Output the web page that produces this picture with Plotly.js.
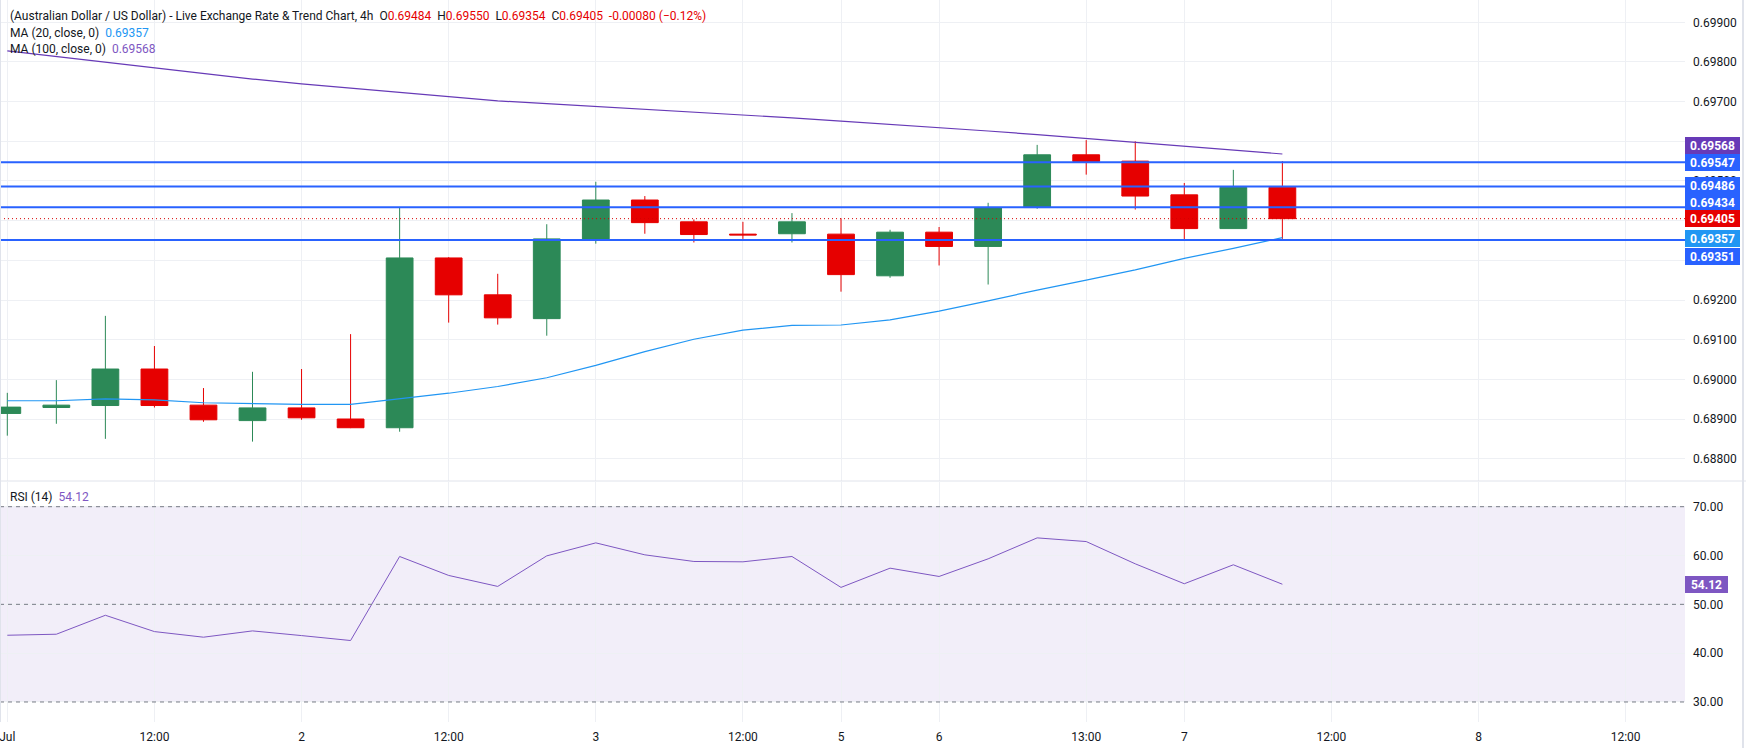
<!DOCTYPE html>
<html><head><meta charset="utf-8">
<script src="https://cdn.plot.ly/plotly-3.0.1.min.js"></script>
<style>html,body{margin:0;padding:0;background:#fff;overflow:hidden}</style>
</head><body><div id="chart" style="width:1746px;height:748px"></div>
<script>
// ---------------- data ----------------
const barIndex = [0,1,2,3,4,5,6,7,8,9,10,11,12,13,14,15,16,17,18,19,20,21,22,23,24,25,26];
const openP  = [0.68914,0.68929,0.68934,0.69026,0.68935,0.68896,0.68928,0.68900,0.68878,0.69306,0.69213,0.69153,0.69354,0.69452,0.69397,0.69366,0.69367,0.69366,0.69261,0.69371,0.69335,0.69433,0.69566,0.69550,0.69465,0.69380,0.69484];
const highP  = [0.68966,0.68998,0.69160,0.69084,0.68978,0.69019,0.69026,0.69114,0.69434,0.69308,0.69266,0.69391,0.69498,0.69462,0.69403,0.69397,0.69419,0.69406,0.69377,0.69384,0.69445,0.69591,0.69603,0.69600,0.69495,0.69528,0.69550];
const lowP   = [0.68858,0.68888,0.68850,0.68929,0.68893,0.68843,0.68898,0.68877,0.68868,0.69143,0.69138,0.69110,0.69342,0.69367,0.69345,0.69354,0.69345,0.69221,0.69256,0.69287,0.69239,0.69430,0.69516,0.69428,0.69352,0.69380,0.69354];
const closeP = [0.68930,0.68935,0.69026,0.68934,0.68898,0.68928,0.68903,0.68878,0.69306,0.69213,0.69155,0.69354,0.69452,0.69395,0.69365,0.69364,0.69397,0.69264,0.69371,0.69335,0.69433,0.69566,0.69549,0.69462,0.69380,0.69484,0.69405];
const ma20   = [0.68946,0.68946,0.68951,0.68948,0.68941,0.68939,0.68937,0.68937,0.68951,0.68965,0.68982,0.69004,0.69035,0.69070,0.69101,0.69124,0.69136,0.69137,0.69150,0.69172,0.69198,0.69225,0.69250,0.69276,0.69305,0.69330,0.69357];
const ma100  = [0.69828,0.69814,0.69799,0.69785,0.69771,0.69757,0.69745,0.69734,0.69724,0.69713,0.69702,0.69695,0.69688,0.69680,0.69673,0.69666,0.69659,0.69651,0.69643,0.69635,0.69626,0.69617,0.69607,0.69598,0.69588,0.69578,0.69568];
const rsi    = [43.67,43.88,47.76,44.42,43.27,44.56,43.60,42.59,59.80,55.92,53.67,59.93,62.59,60.14,58.78,58.71,59.80,53.47,57.41,55.71,59.32,63.61,62.86,58.30,54.22,58.10,54.12];
const levels = [0.69547,0.69486,0.69434,0.69351];
const xTickPos  = [0,3,6,9,12,15,17,19,22,24,27,30,33];
const xTickText = ['Jul','12:00','2','12:00','3','12:00','5','6','13:00','7','12:00','8','12:00'];
const priceTicks = [0.688,0.689,0.690,0.691,0.692,0.693,0.694,0.695,0.696,0.697,0.698,0.699];
const rsiTicks = [30,40,50,60,70];
const rsiBands = [30,50,70];
const titleText = '(Australian Dollar / US Dollar) - Live Exchange Rate & Trend Chart, 4h';
const changeText = '-0.00080 (\u22120.12%)';

// ---------------- style ----------------
const PLOT_W = 1685, PLOT_H = 722;
const GREEN = '#2c8957', RED = '#e60000', BLUE = '#2962ff', MA20C = '#2196f3', MA100C = '#673ab7', RSIC = '#7e57c2';
const TXT = '#131722', GRID = '#eef0f4';
const FONT = 'Roboto, "Noto Sans", sans-serif';
const px = x => x / PLOT_W;
const py = y => 1 - y / PLOT_H;
const last = a => a[a.length - 1];

const traces = [
  {type:'candlestick', x:barIndex, open:openP, high:highP, low:lowP, close:closeP,
   xaxis:'x', yaxis:'y', whiskerwidth:0, hoverinfo:'skip',
   increasing:{line:{color:GREEN,width:1}, fillcolor:GREEN},
   decreasing:{line:{color:RED,width:1}, fillcolor:RED}},
  {type:'scatter', mode:'lines', x:barIndex, y:ma20, xaxis:'x', yaxis:'y', line:{color:MA20C,width:1.2}, hoverinfo:'skip'},
  {type:'scatter', mode:'lines', x:barIndex, y:ma100, xaxis:'x', yaxis:'y', line:{color:MA100C,width:1.2}, hoverinfo:'skip'},
  {type:'scatter', mode:'lines', x:barIndex, y:rsi, xaxis:'x2', yaxis:'y2', line:{color:RSIC,width:1}, hoverinfo:'skip'}
];

const shapes = [];
shapes.push({type:'rect', xref:'paper', x0:0, x1:1, yref:'y2', y0:rsiBands[0], y1:rsiBands[2], fillcolor:'rgba(126,87,194,0.10)', line:{width:0}, layer:'below'});
rsiBands.forEach(v => shapes.push({type:'line', xref:'paper', x0:0, x1:1, yref:'y2', y0:v, y1:v, line:{color:'#787b86', width:1, dash:'4px,4px'}}));
levels.forEach(v => shapes.push({type:'line', xref:'paper', x0:0, x1:1, yref:'y', y0:v, y1:v, line:{color:BLUE, width:2}}));
shapes.push({type:'line', xref:'paper', x0:0, x1:1, yref:'y', y0:last(closeP), y1:last(closeP), line:{color:'#d50000', width:1, dash:'1px,3px'}});
shapes.push({type:'line', xref:'paper', x0:0, x1:px(1746), yref:'paper', y0:py(481), y1:py(481), line:{color:'#e0e3eb', width:1}});
shapes.push({type:'line', xref:'paper', x0:px(1743), x1:px(1743), yref:'paper', y0:py(748), y1:1, line:{color:'#e0e3eb', width:2}});
shapes.push({type:'line', xref:'paper', x0:px(0.5), x1:px(0.5), yref:'paper', y0:0, y1:1, line:{color:'#e0e3eb', width:1}});

const ann = [];
const red = s => '<span style="color:' + RED + '">' + s + '</span>';
const sp = '&nbsp;&nbsp;';
const LEG = 12;
ann.push({xref:'paper', yref:'paper', x:px(8), y:py(16), xanchor:'left', yanchor:'middle', showarrow:false, align:'left',
  font:{family:FONT, size:LEG, color:TXT},
  text: titleText + sp + 'O' + red(openP[26].toFixed(5)) + sp + 'H' + red(highP[26].toFixed(5)) + sp + 'L' + red(lowP[26].toFixed(5)) + sp + 'C' + red(closeP[26].toFixed(5)) + sp + red(changeText)});
ann.push({xref:'paper', yref:'paper', x:px(8), y:py(32.7), xanchor:'left', yanchor:'middle', showarrow:false,
  font:{family:FONT, size:LEG, color:TXT}, text:'MA (20, close, 0)' + sp + '<span style="color:' + MA20C + '">' + last(ma20).toFixed(5) + '</span>'});
ann.push({xref:'paper', yref:'paper', x:px(8), y:py(49.3), xanchor:'left', yanchor:'middle', showarrow:false,
  font:{family:FONT, size:LEG, color:TXT}, text:'MA (100, close, 0)' + sp + '<span style="color:' + RSIC + '">' + last(ma100).toFixed(5) + '</span>'});
ann.push({xref:'paper', yref:'paper', x:px(8), y:py(497), xanchor:'left', yanchor:'middle', showarrow:false,
  font:{family:FONT, size:LEG, color:TXT}, text:'RSI (14)' + sp + '<span style="color:' + RSIC + '">' + last(rsi).toFixed(2) + '</span>'});

// price-scale labels: value, colour, vertical nudge (px) to avoid overlap
const priceLabels = [
  [last(ma100), MA100C, 8.3],
  [levels[0], BLUE, 0],
  [levels[1], BLUE, 1.5],
  [levels[2], BLUE, 4.8],
  [last(closeP), RED, 0],
  [last(ma20), MA20C, -1],
  [levels[3], BLUE, -16]
];
priceLabels.forEach(([v, c, sh]) => ann.push({xref:'paper', yref:'y', x:1, y:v, xanchor:'left', yanchor:'middle', yshift:sh,
  showarrow:false, bgcolor:c, bordercolor:c, borderwidth:1, borderpad:0, width:53, height:15,
  font:{family:FONT, size:12, color:'#ffffff'}, text:'<b>' + v.toFixed(5) + '</b>'}));
ann.push({xref:'paper', yref:'y2', x:1, y:last(rsi), xanchor:'left', yanchor:'middle', showarrow:false,
  bgcolor:RSIC, bordercolor:RSIC, borderwidth:1, borderpad:0, width:41, height:15,
  font:{family:FONT, size:12, color:'#ffffff'}, text:'<b>' + last(rsi).toFixed(2) + '</b>'});

const xr = [-0.149, 34.21];
const layout = {
  width:1746, height:748, margin:{l:0, r:61, t:0, b:26, pad:0},
  paper_bgcolor:'#ffffff', plot_bgcolor:'#ffffff', showlegend:false, boxgap:0.22,
  font:{family:FONT, color:TXT, size:12},
  xaxis:{domain:[0,1], range:xr, anchor:'y', showticklabels:false, tickmode:'array', tickvals:xTickPos,
         showgrid:true, gridcolor:GRID, zeroline:false, showline:false, ticks:'', rangeslider:{visible:false}, fixedrange:true},
  xaxis2:{domain:[0,1], range:xr, anchor:'y2', tickmode:'array', tickvals:xTickPos, ticktext:xTickText,
          showgrid:true, gridcolor:GRID, zeroline:false, showline:false, ticks:'', ticklabelstandoff:6,
          ticklabeloverflow:'allow', tickfont:{family:FONT, size:12, color:TXT}, fixedrange:true},
  yaxis:{domain:[py(480.7), 1], range:[0.687445, 0.699562], side:'right', anchor:'x', tickmode:'array',
         tickvals:priceTicks, ticktext:priceTicks.map(v => v.toFixed(5)), showgrid:true, gridcolor:GRID,
         zeroline:false, showline:false, ticks:'', ticklabelstandoff:7, tickfont:{family:FONT, size:12, color:TXT}, fixedrange:true},
  yaxis2:{domain:[0, py(481.7)], range:[25.9, 75.12], side:'right', anchor:'x2', tickmode:'array',
          tickvals:rsiTicks, ticktext:rsiTicks.map(v => v.toFixed(2)), showgrid:true, gridcolor:GRID,
          zeroline:false, showline:false, ticks:'', ticklabelstandoff:7, tickfont:{family:FONT, size:12, color:TXT}, fixedrange:true},
  shapes:shapes, annotations:ann
};
Plotly.newPlot('chart', traces, layout, {staticPlot:true, displayModeBar:false});
</script></body></html>
